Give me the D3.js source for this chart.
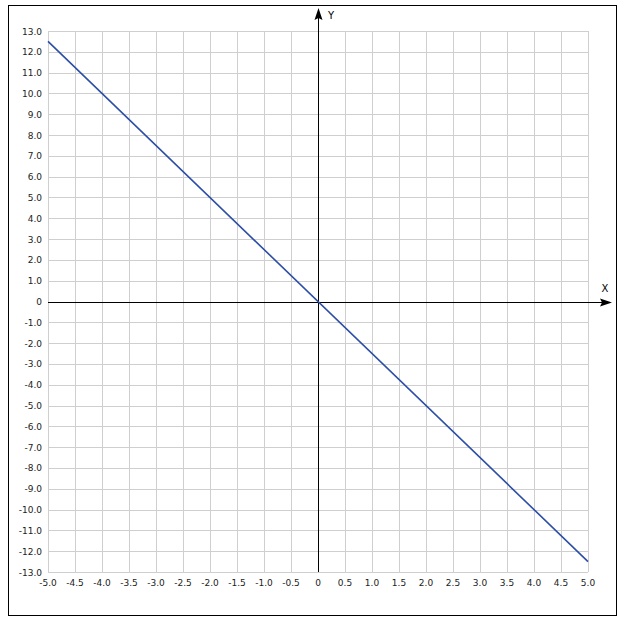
<!DOCTYPE html>
<html><head><meta charset="utf-8">
<script src="https://cdn.jsdelivr.net/npm/d3@7"></script>
<style>body{margin:0;background:#fff;}svg{display:block;}</style>
</head><body>
<svg id="c" width="626" height="624"></svg>
<script>
const xTicks = d3.range(-5, 5.001, 0.5).map(v => +v.toFixed(1));
const yTicks = d3.range(-13, 13.001, 1);
const lineX = [-5, 5];
const lineY = [12.5, -12.5];

const svg = d3.select("#c");
const x = d3.scaleLinear().domain([-5, 5]).range([48, 588]);
const y = d3.scaleLinear().domain([-13, 13]).range([572, 31]);

svg.append("rect").attr("x", 8.5).attr("y", 5.5).attr("width", 608).attr("height", 610)
  .attr("fill", "#fff").attr("stroke", "#000").attr("stroke-width", 1);

const g = svg.append("g");
// grid
g.selectAll(".vx").data(xTicks).join("line")
  .attr("x1", d => Math.round(x(d)) + 0.5).attr("x2", d => Math.round(x(d)) + 0.5)
  .attr("y1", y(13)).attr("y2", y(-13)).attr("stroke", "#cfcfcf").attr("stroke-width", 1);
g.selectAll(".hy").data(yTicks).join("line")
  .attr("y1", d => Math.round(y(d)) + 0.5).attr("y2", d => Math.round(y(d)) + 0.5)
  .attr("x1", x(-5)).attr("x2", x(5)).attr("stroke", "#cfcfcf").attr("stroke-width", 1);

const fmt = d => d === 0 ? "0" : d.toFixed(1);
// y labels
g.selectAll(".yl").data(yTicks).join("text")
  .attr("x", 42).attr("y", d => y(d) + 3.5).attr("text-anchor", "end")
  .attr("font-family", "DejaVu Sans, Verdana, sans-serif").attr("font-size", 9).attr("fill", "#222")
  .text(fmt);
// x labels
g.selectAll(".xl").data(xTicks).join("text")
  .attr("x", d => x(d)).attr("y", 586).attr("text-anchor", "middle")
  .attr("font-family", "DejaVu Sans, Verdana, sans-serif").attr("font-size", 9).attr("fill", "#222")
  .text(fmt);

// axes
const x0 = Math.round(x(0)) + 0.5, y0 = Math.round(y(0)) + 0.5;
g.append("line").attr("x1", x(-5)).attr("x2", 606).attr("y1", y0).attr("y2", y0).attr("stroke", "#000");
g.append("path").attr("d", `M612,${y0} L600,${y0-4} L602,${y0} L600,${y0+4} Z`).attr("fill", "#000");
g.append("line").attr("x1", x0).attr("x2", x0).attr("y1", y(-13)).attr("y2", 14).attr("stroke", "#000");
g.append("path").attr("d", `M${x0},8 L${x0-4},20 L${x0},18 L${x0+4},20 Z`).attr("fill", "#000");
g.append("text").attr("x", 331).attr("y", 19).attr("text-anchor", "middle")
  .attr("font-family", "DejaVu Sans, Verdana, sans-serif").attr("font-size", 10).text("Y");
g.append("text").attr("x", 605).attr("y", 292).attr("text-anchor", "middle")
  .attr("font-family", "DejaVu Sans, Verdana, sans-serif").attr("font-size", 10).text("X");

// data line
const pts = lineX.map((v, i) => [v, lineY[i]]);
g.append("path").datum(pts)
  .attr("d", d3.line().x(d => x(d[0])).y(d => y(d[1])))
  .attr("fill", "none").attr("stroke", "#2c4ea6").attr("stroke-width", 1.6);
</script>
</body></html>
